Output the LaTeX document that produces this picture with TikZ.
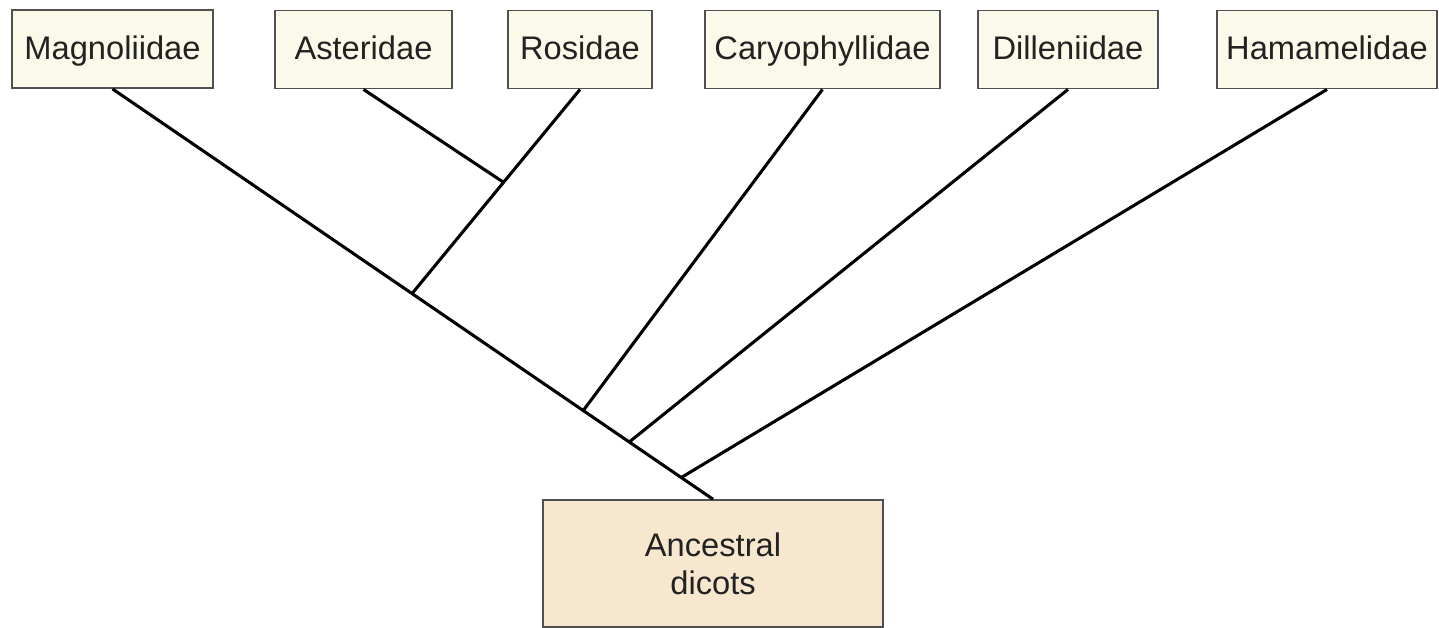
\documentclass[tikz,border=0pt]{standalone}
\usepackage{fontspec}
\setmainfont{Liberation Sans}
\usetikzlibrary{calc}
\definecolor{boxfill}{HTML}{FBF9EA}
\definecolor{ancfill}{HTML}{F8E7CF}
\definecolor{boxline}{HTML}{505050}
\definecolor{txt}{HTML}{222222}
\begin{document}
\begin{tikzpicture}[x=0.75pt,y=-0.75pt,
  taxon/.style={draw=boxline, line width=1.4pt, fill=boxfill, inner sep=0pt,
    minimum height=58.5pt, text height=19pt, text depth=4pt, text=txt,
    font=\fontsize{24.5}{28}\selectfont},
  ancbox/.style={draw=boxline, line width=1.4pt, fill=ancfill, inner sep=0pt,
    minimum width=255pt, minimum height=95pt, align=center, text=txt,
    font=\fontsize{24.5}{28.5}\selectfont},
  branch/.style={line width=2.3pt, black}]
\useasboundingbox (0,0) rectangle (1439,628);
\node[taxon, minimum width=150.75pt] (mag) at (112.5,49) {Magnoliidae};
\node[taxon, minimum width=132.75pt] (ast) at (363.5,49.5) {Asteridae};
\node[taxon, minimum width=108pt] (ros) at (580,49.5) {Rosidae};
\node[taxon, minimum width=176.25pt] (car) at (822.5,49.5) {Caryophyllidae};
\node[taxon, minimum width=135pt] (dil) at (1068,49.5) {Dilleniidae};
\node[taxon, minimum width=165pt] (ham) at (1327,49.5) {Hamamelidae};
\node[ancbox] (anc) at (713,563.5) {Ancestral\\dicots};
\coordinate (j1) at ($(mag.south)!0.4988!(anc.north)$);
\coordinate (j2) at ($(mag.south)!0.7839!(anc.north)$);
\coordinate (j3) at ($(mag.south)!0.8605!(anc.north)$);
\coordinate (j4) at ($(mag.south)!0.9471!(anc.north)$);
\coordinate (j0) at ($(ros.south)!0.455!(j1)$);
\draw[branch] (mag.south) -- (anc.north);
\draw[branch] (ros.south) -- (j1);
\draw[branch] (ast.south) -- (j0);
\draw[branch] (car.south) -- (j2);
\draw[branch] (dil.south) -- (j3);
\draw[branch] (ham.south) -- (j4);
\end{tikzpicture}
\end{document}
